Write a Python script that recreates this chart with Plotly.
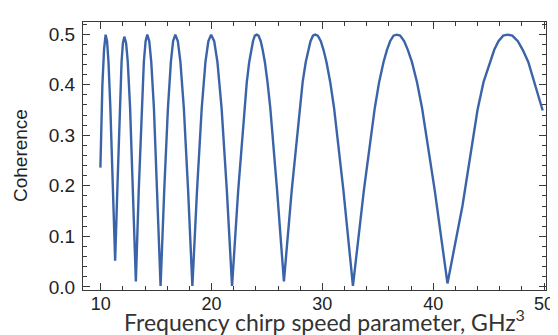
import plotly.graph_objects as go

# Data (chirp speed parameter vs coherence)
chirp_speed = [
    9.97, 10.15, 10.3, 10.44,
    10.57, 10.70, 10.87, 11.085, 11.3,
    11.51, 11.715, 11.88, 12.0, 12.13,
    12.29, 12.44, 12.65, 12.91, 13.17,
    13.43, 13.685, 13.89, 14.05, 14.2,
    14.38, 14.56, 14.8, 15.1, 15.4,
    15.73, 16.065, 16.33, 16.53, 16.73,
    16.96, 17.19, 17.5, 17.885, 18.27,
    18.69, 19.115, 19.45, 19.71, 19.96,
    20.24, 20.53, 20.905, 21.38, 21.85,
    22.405, 22.96, 23.18, 23.40, 23.58, 23.74, 23.91, 24.07,
    24.24, 24.44, 24.61, 24.81, 25.05, 25.30, 25.915, 26.53,
    27.235, 27.94, 28.22, 28.50, 28.73, 28.93, 29.15, 29.35,
    29.59, 29.86, 30.10, 30.37, 30.71, 31.055, 31.9, 32.76,
    33.745, 34.73, 35.12, 35.52, 35.83, 36.11, 36.42, 36.7,
    37.02, 37.39, 37.71, 38.08, 38.54, 38.995, 40.14, 41.29,
    42.64, 44.0, 44.54, 45.08, 45.51, 45.89, 46.32, 46.7,
    47.14, 47.64, 48.08, 48.58, 49.88,
]
coherence = [
    0.236, 0.40, 0.47, 0.499,
    0.486, 0.445, 0.354, 0.2, 0.052,
    0.2, 0.354, 0.445, 0.482, 0.495,
    0.482, 0.445, 0.354, 0.191, 0.011,
    0.191, 0.354, 0.445, 0.486, 0.499,
    0.486, 0.445, 0.354, 0.191, 0.002,
    0.191, 0.354, 0.445, 0.486, 0.499,
    0.486, 0.445, 0.354, 0.191, 0.002,
    0.191, 0.354, 0.445, 0.486, 0.499,
    0.486, 0.445, 0.354, 0.191, 0.002,
    0.191, 0.354, 0.405, 0.445, 0.469, 0.486, 0.497, 0.499,
    0.497, 0.486, 0.469, 0.445, 0.405, 0.354, 0.191, 0.011,
    0.191, 0.354, 0.405, 0.445, 0.469, 0.486, 0.497, 0.499,
    0.497, 0.486, 0.469, 0.445, 0.405, 0.354, 0.191, 0.002,
    0.191, 0.354, 0.405, 0.445, 0.469, 0.486, 0.497, 0.499,
    0.497, 0.486, 0.469, 0.445, 0.405, 0.354, 0.191, 0.007,
    0.16, 0.35, 0.405, 0.44, 0.469, 0.486, 0.497, 0.499,
    0.497, 0.486, 0.469, 0.445, 0.349,
]

x_ticks = [10, 20, 30, 40, 50]
y_ticks = [0.0, 0.1, 0.2, 0.3, 0.4, 0.5]

fig = go.Figure()
fig.add_trace(go.Scatter(
    x=chirp_speed, y=coherence, mode="lines",
    line=dict(color="#3B64A8", width=2.4),
    showlegend=False,
))

frame = "#3a3a3a"
fig.update_layout(
    width=558, height=335,
    margin=dict(l=75, r=12, t=14, b=53),
    paper_bgcolor="white", plot_bgcolor="white",
    font=dict(family="Liberation Sans, Arial, sans-serif", color="#222222"),
    annotations=[
        dict(text="Frequency chirp speed parameter, GHz<sup>3</sup>",
             xref="paper", yref="paper", x=0.522, y=-0.174,
             xanchor="center", yanchor="bottom", showarrow=False, borderpad=0,
             font=dict(size=23, family="Lato, Open Sans, sans-serif", color="#333333")),
        dict(text="Coherence", textangle=-90,
             xref="paper", yref="paper", x=-0.136, y=0.5,
             xanchor="center", yanchor="middle", showarrow=False,
             font=dict(size=19, family="Liberation Sans, Arial, sans-serif", color="#222222")),
    ],
)
fig.update_xaxes(
    range=[8.4, 50.18],
    tickmode="array", tickvals=x_ticks, ticktext=[str(v) for v in x_ticks],
    ticks="inside", ticklen=7, tickwidth=1, tickcolor=frame,
    minor=dict(dtick=2, ticks="inside", ticklen=4, tickcolor=frame, showgrid=False),
    showline=True, linecolor=frame, linewidth=1, mirror="allticks",
    showgrid=False, zeroline=False, ticklabelstandoff=-3,
    tickfont=dict(size=18, family="Liberation Sans, Arial, sans-serif", color="#222222"),
)
fig.update_yaxes(
    range=[-0.006, 0.524],
    tickmode="array", tickvals=y_ticks, ticktext=[f"{v:.1f}" for v in y_ticks],
    ticks="inside", ticklen=7, tickwidth=1, tickcolor=frame,
    minor=dict(dtick=0.02, ticks="inside", ticklen=4, tickcolor=frame, showgrid=False),
    showline=True, linecolor=frame, linewidth=1, mirror="allticks",
    showgrid=False, zeroline=False, ticklabelstandoff=3,
    tickfont=dict(size=19, family="Liberation Sans, Arial, sans-serif", color="#222222"),
)

fig.write_html("out.html")
